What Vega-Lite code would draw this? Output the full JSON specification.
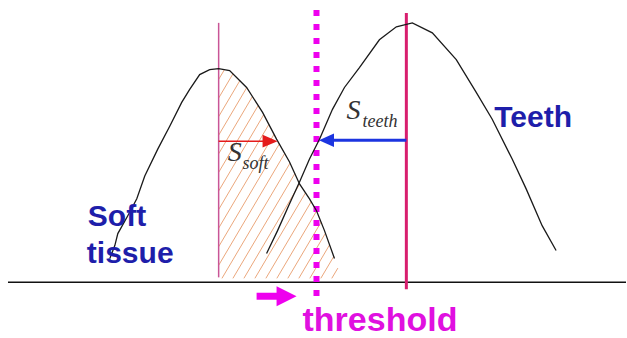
{
  "$schema": "https://vega.github.io/schema/vega-lite/v6.json",
  "autosize": {"type": "fit", "contains": "padding"},
  "width": 627,
  "height": 338,
  "padding": 0,
  "background": "white",
  "config": {"view": {"stroke": null}, "axis": {"disable": true}},
  "datasets": {
    "soft": [
      {"x": 110, "y": 260}, {"x": 115, "y": 247}, {"x": 118, "y": 235}, {"x": 128, "y": 217},
      {"x": 137, "y": 200}, {"x": 145, "y": 177}, {"x": 158, "y": 150}, {"x": 170, "y": 127},
      {"x": 182, "y": 103}, {"x": 190, "y": 90}, {"x": 200, "y": 75}, {"x": 210, "y": 70},
      {"x": 219, "y": 69}, {"x": 230, "y": 71}, {"x": 247, "y": 88}, {"x": 263, "y": 113},
      {"x": 277, "y": 140}, {"x": 290, "y": 163}, {"x": 300, "y": 185}, {"x": 310, "y": 200},
      {"x": 317, "y": 212}, {"x": 325, "y": 232}, {"x": 335, "y": 260}
    ],
    "teeth": [
      {"x": 267, "y": 255}, {"x": 278, "y": 232}, {"x": 290, "y": 205}, {"x": 300, "y": 183},
      {"x": 310, "y": 160}, {"x": 320, "y": 140}, {"x": 333, "y": 110}, {"x": 345, "y": 88},
      {"x": 360, "y": 68}, {"x": 380, "y": 40}, {"x": 397, "y": 27}, {"x": 413, "y": 23},
      {"x": 433, "y": 33}, {"x": 457, "y": 60}, {"x": 477, "y": 93}, {"x": 493, "y": 120},
      {"x": 513, "y": 160}, {"x": 527, "y": 190}, {"x": 543, "y": 227}, {"x": 557, "y": 252}
    ],
    "hatch": [
      {"x": 219, "y": 79.9, "x2": 224.8, "y2": 70.1},
      {"x": 219, "y": 98.6, "x2": 233.3, "y2": 74.3},
      {"x": 219, "y": 117.3, "x2": 240.2, "y2": 81.2},
      {"x": 219, "y": 136, "x2": 247.1, "y2": 88.2},
      {"x": 219, "y": 154.7, "x2": 252.8, "y2": 97.1},
      {"x": 219, "y": 173.4, "x2": 258.6, "y2": 106.1},
      {"x": 219, "y": 192.1, "x2": 264.2, "y2": 115.3},
      {"x": 219, "y": 210.8, "x2": 269.3, "y2": 125.2},
      {"x": 219, "y": 229.5, "x2": 274.5, "y2": 135.1},
      {"x": 219, "y": 248.2, "x2": 279.7, "y2": 144.9},
      {"x": 219, "y": 266.9, "x2": 285.1, "y2": 154.4},
      {"x": 222.3, "y": 280, "x2": 290.5, "y2": 164.1},
      {"x": 233.3, "y": 280, "x2": 295.3, "y2": 174.6},
      {"x": 244.3, "y": 280, "x2": 300.1, "y2": 185.2},
      {"x": 255.3, "y": 280, "x2": 306, "y2": 193.9},
      {"x": 266.3, "y": 280, "x2": 311.7, "y2": 202.9},
      {"x": 277.3, "y": 280, "x2": 317.1, "y2": 212.3},
      {"x": 288.3, "y": 280, "x2": 321.6, "y2": 223.4},
      {"x": 299.3, "y": 280, "x2": 325.9, "y2": 234.7},
      {"x": 310.3, "y": 280, "x2": 330.1, "y2": 246.3},
      {"x": 321.3, "y": 280, "x2": 334.3, "y2": 258},
      {"x": 332.3, "y": 280, "x2": 338.4, "y2": 269.7}
    ],
    "base": [{"x": 8, "x2": 627, "y": 284}],
    "vlines": [
      {"line": "soft", "x": 219, "y": 23, "y2": 279},
      {"line": "teeth", "x": 407, "y": 13, "y2": 291},
      {"line": "threshold", "x": 317, "y": 10, "y2": 304}
    ],
    "shafts": [
      {"arrow": "soft", "x": 219, "x2": 266, "y": 142},
      {"arrow": "teeth", "x": 332, "x2": 407, "y": 141},
      {"arrow": "threshold", "x": 257, "x2": 282, "y": 298}
    ],
    "heads": [
      {"arrow": "soft", "x": 270.5, "y": 142},
      {"arrow": "teeth", "x": 327, "y": 141},
      {"arrow": "threshold", "x": 287, "y": 298}
    ],
    "labels": [
      {"kind": "blue", "text": "Soft", "x": 88, "y": 227},
      {"kind": "blue", "text": "tissue", "x": 87, "y": 265},
      {"kind": "blue", "text": "Teeth", "x": 495, "y": 128},
      {"kind": "magenta", "text": "threshold", "x": 303, "y": 333},
      {"kind": "S", "text": "S", "x": 228, "y": 162},
      {"kind": "S", "text": "S", "x": 347, "y": 120},
      {"kind": "sub", "text": "soft", "x": 243, "y": 170},
      {"kind": "sub", "text": "teeth", "x": 363, "y": 128}
    ]
  },
  "encoding": {
    "x": {"field": "x", "type": "quantitative", "scale": {"domain": [0, 627], "nice": false, "zero": false}, "axis": null},
    "y": {"field": "y", "type": "quantitative", "scale": {"domain": [0, 338], "nice": false, "zero": false, "reverse": true}, "axis": null}
  },
  "layer": [
    {
      "data": {"name": "hatch"},
      "mark": {"type": "rule", "color": "#eba77c", "strokeWidth": 1},
      "encoding": {"x2": {"field": "x2"}, "y2": {"field": "y2"}}
    },
    {
      "data": {"name": "base"},
      "mark": {"type": "rule", "color": "#111111", "strokeWidth": 1.5},
      "encoding": {"x2": {"field": "x2"}}
    },
    {
      "data": {"name": "vlines"},
      "transform": [{"filter": "datum.line === 'soft'"}],
      "mark": {"type": "rule", "color": "#c95596", "strokeWidth": 1.5},
      "encoding": {"y2": {"field": "y2"}}
    },
    {
      "data": {"name": "vlines"},
      "transform": [{"filter": "datum.line === 'teeth'"}],
      "mark": {"type": "rule", "color": "#d81e6e", "strokeWidth": 3},
      "encoding": {"y2": {"field": "y2"}}
    },
    {
      "data": {"name": "vlines"},
      "transform": [{"filter": "datum.line === 'threshold'"}],
      "mark": {"type": "rule", "color": "#ee00ee", "strokeWidth": 6, "strokeDash": [6, 8]},
      "encoding": {"y2": {"field": "y2"}}
    },
    {
      "data": {"name": "soft"},
      "mark": {"type": "line", "color": "#1a1a1a", "strokeWidth": 1.3},
      "encoding": {}
    },
    {
      "data": {"name": "teeth"},
      "mark": {"type": "line", "color": "#1a1a1a", "strokeWidth": 1.3},
      "encoding": {}
    },
    {
      "data": {"name": "shafts"},
      "transform": [{"filter": "datum.arrow === 'soft'"}],
      "mark": {"type": "rule", "color": "#e41b1b", "strokeWidth": 1.5},
      "encoding": {"x2": {"field": "x2"}}
    },
    {
      "data": {"name": "shafts"},
      "transform": [{"filter": "datum.arrow === 'teeth'"}],
      "mark": {"type": "rule", "color": "#1c35e0", "strokeWidth": 3},
      "encoding": {"x2": {"field": "x2"}}
    },
    {
      "data": {"name": "shafts"},
      "transform": [{"filter": "datum.arrow === 'threshold'"}],
      "mark": {"type": "rule", "color": "#ee00ee", "strokeWidth": 7},
      "encoding": {"x2": {"field": "x2"}}
    },
    {
      "data": {"name": "heads"},
      "transform": [{"filter": "datum.arrow === 'soft'"}],
      "mark": {"type": "point", "shape": "M-1,-0.85L1,0L-1,0.85Z", "filled": true, "size": 225, "color": "#e41b1b", "opacity": 1, "strokeWidth": 0}
    },
    {
      "data": {"name": "heads"},
      "transform": [{"filter": "datum.arrow === 'teeth'"}],
      "mark": {"type": "point", "shape": "M1,-0.9L-1,0L1,0.9Z", "filled": true, "size": 225, "color": "#1c35e0", "opacity": 1, "strokeWidth": 0}
    },
    {
      "data": {"name": "heads"},
      "transform": [{"filter": "datum.arrow === 'threshold'"}],
      "mark": {"type": "point", "shape": "M-1,-1L1,0L-1,1Z", "filled": true, "size": 400, "color": "#ee00ee", "opacity": 1, "strokeWidth": 0}
    },
    {
      "data": {"name": "labels"},
      "transform": [{"filter": "datum.kind === 'blue'"}],
      "mark": {"type": "text", "align": "left", "baseline": "alphabetic", "font": "Liberation Sans", "fontSize": 30, "fontWeight": "bold", "color": "#1e1eaa"},
      "encoding": {"text": {"field": "text"}}
    },
    {
      "data": {"name": "labels"},
      "transform": [{"filter": "datum.kind === 'magenta'"}],
      "mark": {"type": "text", "align": "left", "baseline": "alphabetic", "font": "Liberation Sans", "fontSize": 34, "fontWeight": "bold", "color": "#e010e0"},
      "encoding": {"text": {"field": "text"}}
    },
    {
      "data": {"name": "labels"},
      "transform": [{"filter": "datum.kind === 'S'"}],
      "mark": {"type": "text", "align": "left", "baseline": "alphabetic", "font": "Liberation Serif", "fontStyle": "italic", "fontSize": 28, "color": "#333333"},
      "encoding": {"text": {"field": "text"}}
    },
    {
      "data": {"name": "labels"},
      "transform": [{"filter": "datum.kind === 'sub'"}],
      "mark": {"type": "text", "align": "left", "baseline": "alphabetic", "font": "Liberation Serif", "fontStyle": "italic", "fontSize": 18, "color": "#333333"},
      "encoding": {"text": {"field": "text"}}
    }
  ]
}
